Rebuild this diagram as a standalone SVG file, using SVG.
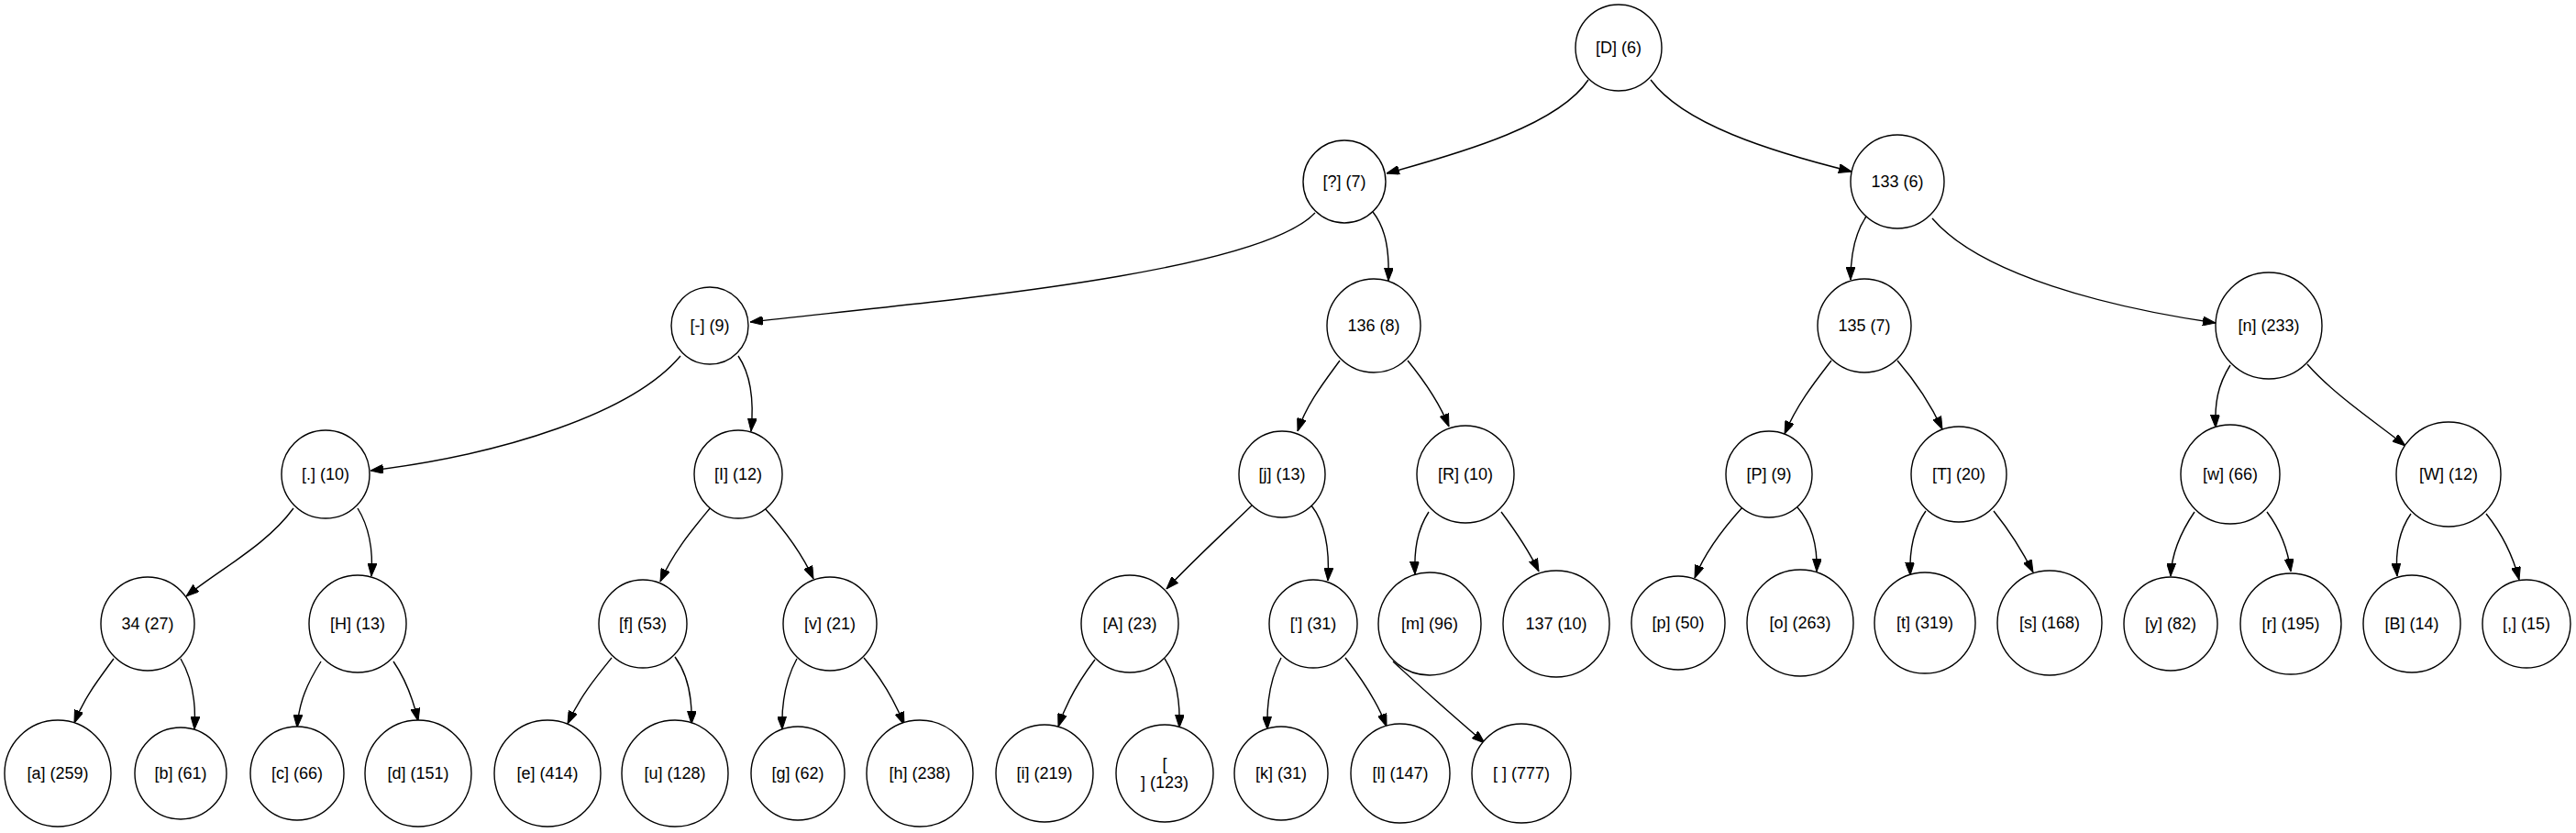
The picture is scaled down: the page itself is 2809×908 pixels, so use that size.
<svg xmlns="http://www.w3.org/2000/svg" width="2809" height="908" viewBox="0 0 2809 908">
<style>
.n circle{fill:#fff;stroke:#000;stroke-width:1.4}
.n text{font-family:"Liberation Sans",Arial,sans-serif;font-size:18px;fill:#000;text-anchor:middle;dominant-baseline:central}
.e path{fill:none;stroke:#000;stroke-width:1.4;marker-end:url(#ah)}
</style>
<defs>
<marker id="ah" viewBox="0 0 14 10" refX="14" refY="5" markerWidth="14" markerHeight="10" markerUnits="userSpaceOnUse" orient="auto">
<path d="M0,0 L14,5 L0,10 z" fill="#000" stroke="#000" stroke-width="1"/>
</marker>
</defs>
<rect width="2809" height="908" fill="#fff"/>
<g id="connectors" class="e">
<path d="M1732,87 C1700,135 1600,165 1512,189"/>
<path d="M1800,87 C1835,135 1930,165 2019,187"/>
<path d="M1434,232 C1370,300 1000,330 818,351"/>
<path d="M1497,231 C1512,250 1515,275 1514,306"/>
<path d="M742,388 C690,450 550,495 404,513"/>
<path d="M805,388 C820,410 822,440 819,470"/>
<path d="M1461,393 C1445,415 1425,440 1415,470"/>
<path d="M1535,393 C1553,415 1570,440 1580,465"/>
<path d="M2035,236 C2022,255 2018,280 2018,305"/>
<path d="M2107,238 C2160,300 2300,335 2416,352"/>
<path d="M1997,393 C1980,415 1960,440 1946,473"/>
<path d="M2069,393 C2088,415 2105,440 2118,468"/>
<path d="M2432,398 C2418,420 2415,440 2416,466"/>
<path d="M2516,397 C2545,430 2590,460 2623,486"/>
<path d="M320,554 C290,595 240,620 203,650"/>
<path d="M390,554 C403,575 407,600 405,628"/>
<path d="M124,718 C108,740 92,760 81,788"/>
<path d="M197,718 C210,740 214,765 212,795"/>
<path d="M350,721 C335,745 326,765 324,793"/>
<path d="M429,721 C442,740 450,760 456,786"/>
<path d="M775,553 C757,575 735,600 720,634"/>
<path d="M833,553 C853,575 873,600 887,631"/>
<path d="M667,717 C650,738 632,760 619,789"/>
<path d="M736,716 C750,735 755,760 754,789"/>
<path d="M869,718 C857,740 852,765 853,795"/>
<path d="M942,717 C960,738 976,765 986,790"/>
<path d="M1365,551 C1335,580 1300,612 1272,642"/>
<path d="M1430,551 C1445,570 1450,600 1448,633"/>
<path d="M1558,558 C1545,578 1542,600 1543,626"/>
<path d="M1637,558 C1652,578 1667,600 1678,623"/>
<path d="M1194,719 C1178,740 1163,765 1154,792"/>
<path d="M1270,718 C1283,738 1287,765 1286,793"/>
<path d="M1397,717 C1385,740 1381,765 1382,795"/>
<path d="M1467,717 C1485,740 1502,765 1512,792"/>
<path d="M1519,721 C1550,750 1590,785 1619,810"/>
<path d="M1900,553 C1880,575 1860,600 1848,630"/>
<path d="M1960,553 C1975,570 1982,595 1981,623"/>
<path d="M2100,557 C2087,575 2082,600 2083,627"/>
<path d="M2174,557 C2190,577 2205,600 2217,624"/>
<path d="M2393,558 C2378,580 2368,605 2367,628"/>
<path d="M2472,558 C2487,578 2495,600 2498,623"/>
<path d="M2629,560 C2615,580 2612,605 2614,628"/>
<path d="M2711,560 C2727,580 2740,605 2747,632"/>
</g>
<g id="n0" class="n"><circle cx="1765" cy="52" r="47"/><text x="1765" y="52">[D] (6)</text></g>
<g id="n1" class="n"><circle cx="1466" cy="198" r="45"/><text x="1466" y="198">[?] (7)</text></g>
<g id="n2" class="n"><circle cx="2069" cy="198" r="51"/><text x="2069" y="198">133 (6)</text></g>
<g id="n3" class="n"><circle cx="774" cy="355" r="42"/><text x="774" y="355">[-] (9)</text></g>
<g id="n4" class="n"><circle cx="1498" cy="355" r="51"/><text x="1498" y="355">136 (8)</text></g>
<g id="n5" class="n"><circle cx="2033" cy="355" r="51"/><text x="2033" y="355">135 (7)</text></g>
<g id="n6" class="n"><circle cx="2474" cy="355" r="58"/><text x="2474" y="355">[n] (233)</text></g>
<g id="n7" class="n"><circle cx="355" cy="517" r="48"/><text x="355" y="517">[.] (10)</text></g>
<g id="n8" class="n"><circle cx="805" cy="517" r="48"/><text x="805" y="517">[I] (12)</text></g>
<g id="n9" class="n"><circle cx="1398" cy="517" r="47"/><text x="1398" y="517">[j] (13)</text></g>
<g id="n10" class="n"><circle cx="1598" cy="517" r="53"/><text x="1598" y="517">[R] (10)</text></g>
<g id="n11" class="n"><circle cx="1929" cy="517" r="47"/><text x="1929" y="517">[P] (9)</text></g>
<g id="n12" class="n"><circle cx="2136" cy="517" r="52"/><text x="2136" y="517">[T] (20)</text></g>
<g id="n13" class="n"><circle cx="2432" cy="517" r="54"/><text x="2432" y="517">[w] (66)</text></g>
<g id="n14" class="n"><circle cx="2670" cy="517" r="57"/><text x="2670" y="517">[W] (12)</text></g>
<g id="n15" class="n"><circle cx="161" cy="680" r="51"/><text x="161" y="680">34 (27)</text></g>
<g id="n16" class="n"><circle cx="390" cy="680" r="53"/><text x="390" y="680">[H] (13)</text></g>
<g id="n17" class="n"><circle cx="701" cy="680" r="48"/><text x="701" y="680">[f] (53)</text></g>
<g id="n18" class="n"><circle cx="905" cy="680" r="51"/><text x="905" y="680">[v] (21)</text></g>
<g id="n19" class="n"><circle cx="1232" cy="680" r="53"/><text x="1232" y="680">[A] (23)</text></g>
<g id="n20" class="n"><circle cx="1432" cy="680" r="48"/><text x="1432" y="680">['] (31)</text></g>
<g id="n21" class="n"><circle cx="1559" cy="680" r="56"/><text x="1559" y="680">[m] (96)</text></g>
<g id="n22" class="n"><circle cx="1697" cy="680" r="58"/><text x="1697" y="680">137 (10)</text></g>
<g id="n23" class="n"><circle cx="1830" cy="679" r="51"/><text x="1830" y="679">[p] (50)</text></g>
<g id="n24" class="n"><circle cx="1963" cy="679" r="58"/><text x="1963" y="679">[o] (263)</text></g>
<g id="n25" class="n"><circle cx="2099" cy="679" r="55"/><text x="2099" y="679">[t] (319)</text></g>
<g id="n26" class="n"><circle cx="2235" cy="679" r="57"/><text x="2235" y="679">[s] (168)</text></g>
<g id="n27" class="n"><circle cx="2367" cy="680" r="51"/><text x="2367" y="680">[y] (82)</text></g>
<g id="n28" class="n"><circle cx="2498" cy="680" r="55"/><text x="2498" y="680">[r] (195)</text></g>
<g id="n29" class="n"><circle cx="2630" cy="680" r="53"/><text x="2630" y="680">[B] (14)</text></g>
<g id="n30" class="n"><circle cx="2755" cy="680" r="48"/><text x="2755" y="680">[,] (15)</text></g>
<g id="n31" class="n"><circle cx="63" cy="843" r="58"/><text x="63" y="843">[a] (259)</text></g>
<g id="n32" class="n"><circle cx="197" cy="843" r="50"/><text x="197" y="843">[b] (61)</text></g>
<g id="n33" class="n"><circle cx="324" cy="843" r="51"/><text x="324" y="843">[c] (66)</text></g>
<g id="n34" class="n"><circle cx="456" cy="843" r="58"/><text x="456" y="843">[d] (151)</text></g>
<g id="n35" class="n"><circle cx="597" cy="843" r="58"/><text x="597" y="843">[e] (414)</text></g>
<g id="n36" class="n"><circle cx="736" cy="843" r="58"/><text x="736" y="843">[u] (128)</text></g>
<g id="n37" class="n"><circle cx="870" cy="843" r="51"/><text x="870" y="843">[g] (62)</text></g>
<g id="n38" class="n"><circle cx="1003" cy="843" r="58"/><text x="1003" y="843">[h] (238)</text></g>
<g id="n39" class="n"><circle cx="1139" cy="843" r="53"/><text x="1139" y="843">[i] (219)</text></g>
<g id="n40" class="n"><circle cx="1270" cy="843" r="53"/><text x="1270" y="833">[</text><text x="1270" y="853">] (123)</text></g>
<g id="n41" class="n"><circle cx="1397" cy="843" r="51"/><text x="1397" y="843">[k] (31)</text></g>
<g id="n42" class="n"><circle cx="1527" cy="843" r="54"/><text x="1527" y="843">[l] (147)</text></g>
<g id="n43" class="n"><circle cx="1659" cy="843" r="54"/><text x="1659" y="843">[ ] (777)</text></g>
</svg>
